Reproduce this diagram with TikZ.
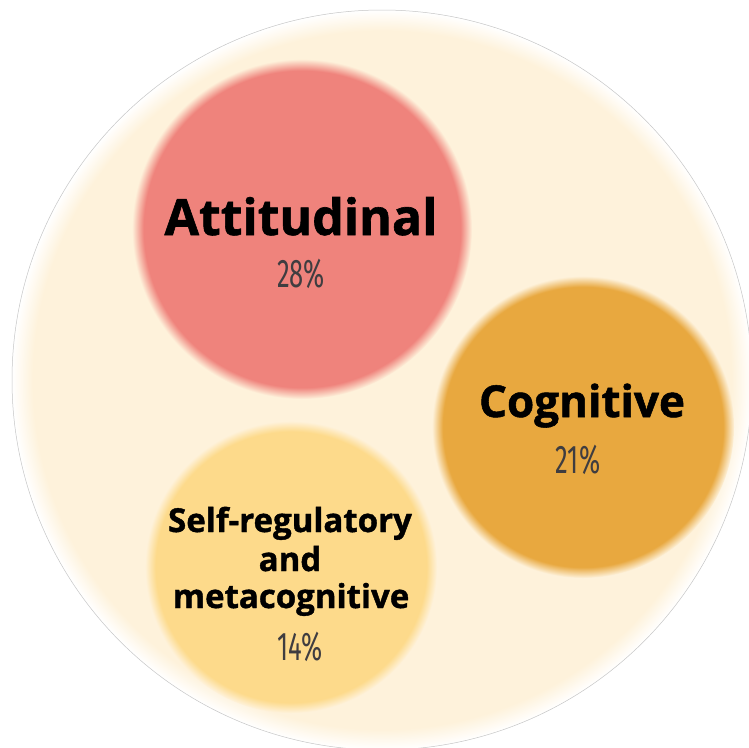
\documentclass[tikz,border=0pt]{standalone}
\usepackage{fontspec}
\setmainfont{Open Sans}[BoldFeatures={FakeBold=1.2}]
\newfontfamily\pctfont{Fira Sans}
\definecolor{cream}{HTML}{FEF2DB}
\definecolor{salmon}{HTML}{EF837C}
\definecolor{amber}{HTML}{E8A83F}
\definecolor{butter}{HTML}{FDDA8B}
\definecolor{pctgray}{HTML}{3F3D40}
\pgfdeclareradialshading{outerglow}{\pgfpoint{0bp}{0bp}}{color(0bp)=(cream); color(23.6bp)=(cream); color(25bp)=(white); color(50bp)=(white)}
\pgfdeclareradialshading{salmonblur}{\pgfpoint{0bp}{0bp}}{color(0bp)=(salmon); color(23.3bp)=(salmon); color(25bp)=(cream); color(50bp)=(cream)}
\pgfdeclareradialshading{amberblur}{\pgfpoint{0bp}{0bp}}{color(0bp)=(amber); color(23.2bp)=(amber); color(25bp)=(cream); color(50bp)=(cream)}
\pgfdeclareradialshading{butterblur}{\pgfpoint{0bp}{0bp}}{color(0bp)=(butter); color(23.2bp)=(butter); color(25bp)=(cream); color(50bp)=(cream)}
\tikzset{
  bubble/.style={circle, inner sep=0pt, minimum size=#1},
  biglabel/.style={anchor=base, inner sep=0pt, font=\bfseries\fontsize{50}{52}\selectfont},
  smalllabel/.style={anchor=base, inner sep=0pt, font=\bfseries\fontsize{33}{38}\selectfont},
  pct/.style={anchor=base, inner sep=0pt, text=pctgray, font=\pctfont\fontsize{40}{40}\selectfont}
}
\newcommand{\pctval}[1]{\scalebox{0.64}[1]{#1}}
\begin{document}
\begin{tikzpicture}[x=1pt,y=-1pt]
\useasboundingbox (0,0) rectangle (749,747);
\fill[white] (0,0) rectangle (749,747);
% outer circle
\node[bubble=740pt, shading=outerglow, draw=gray!45, line width=0.5pt] (outer) at (382,380) {};
% bubbles
\node[bubble=340pt, shading=salmonblur] (att) at (302,229) {};
\node[bubble=302pt, shading=amberblur] (cog) at (583,427) {};
\node[bubble=292pt, shading=butterblur] (self) at (291,567) {};
% labels
\node[biglabel] (attL) at (301,235) {Attitudinal};
\node[pct] (attP) at (301,287) {\pctval{28\%}};
\node[biglabel, font=\bfseries\fontsize{44}{46}\selectfont] (cogL) at (582,417) {Cognitive};
\node[pct] (cogP) at (578,473) {\pctval{21\%}};
\node[smalllabel] (selfL1) at (290,532) {Self-regulatory};
\node[smalllabel] (selfL2) at (290,571) {and};
\node[smalllabel] (selfL3) at (291,608) {metacognitive};
\node[pct] (selfP) at (300,660) {\pctval{14\%}};
\end{tikzpicture}
\end{document}
